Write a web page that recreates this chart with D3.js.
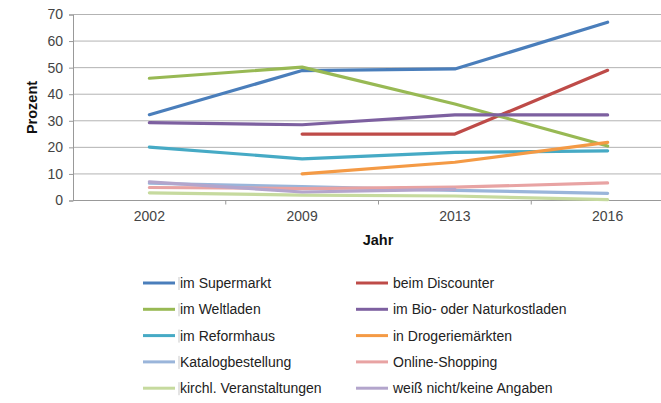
<!DOCTYPE html>
<html>
<head>
<meta charset="utf-8">
<script src="https://cdn.jsdelivr.net/npm/d3@7"></script>
<style>
  html, body { margin: 0; padding: 0; background: #fff; }
  svg { display: block; font-family: "Liberation Sans", Arial, Helvetica, sans-serif; }
</style>
</head>
<body>
<svg id="chart" width="661" height="403"></svg>
<script>
// ---- data ----
const years = ["2002", "2009", "2013", "2016"];
const yTicks = [0, 10, 20, 30, 40, 50, 60, 70];
const seriesNames = [
  "im Supermarkt", "beim Discounter",
  "im Weltladen", "im Bio- oder Naturkostladen",
  "im Reformhaus", "in Drogeriemärkten",
  "Katalogbestellung", "Online-Shopping",
  "kirchl. Veranstaltungen", "weiß nicht/keine Angaben"
];
const supermarkt   = [32.3, 48.9, 49.5, 67.1];
const discounter   = [null, 25, 25, 49];
const weltladen    = [46, 50.2, 36.3, 20.5];
const bio          = [29.3, 28.5, 32.2, 32.2];
const reformhaus   = [20.1, 15.7, 18.1, 18.7];
const drogerie     = [null, 10, 14.4, 21.9];
const katalog      = [6.5, 5.2, 3.8, 2.7];
const online       = [4.9, 4.5, 5.0, 6.6];
const kirchl       = [2.9, 2.0, 1.7, 0.3];
const weissNicht   = [7.0, 3.2, 4.2, null];
const seriesValues = [supermarkt, discounter, weltladen, bio, reformhaus, drogerie, katalog, online, kirchl, weissNicht];
const seriesColors = ["#4A7EBB", "#BE4B48", "#98B954", "#7D60A0", "#46AAC5", "#F49A45", "#9AB5DA", "#E8A3A3", "#C6DA9E", "#B3A5CC"];
const yTitle = "Prozent";
const xTitle = "Jahr";

// ---- layout ----
const svg = d3.select("#chart");
const W = 661;
const plotLeft = 73, plotTop = 14.5, plotBottom = 200.5;
const bandW = 152.75;

const x = d3.scaleBand().domain(years).range([plotLeft, plotLeft + bandW * years.length]).paddingInner(0).paddingOuter(0);
const y = d3.scaleLinear().domain([0, 70]).range([plotBottom, plotTop]);

// gridlines
svg.append("g").selectAll("line").data(yTicks.filter(d => d > 0)).join("line")
  .attr("x1", plotLeft).attr("x2", W)
  .attr("y1", d => y(d)).attr("y2", d => y(d))
  .attr("stroke", "#b3b3b3").attr("stroke-width", 1);

// y axis
const yAxis = svg.append("g").attr("transform", `translate(${plotLeft},0)`)
  .call(d3.axisLeft(y).tickValues(yTicks).tickSize(4).tickPadding(6));
yAxis.select(".domain").attr("stroke", "#999");
yAxis.selectAll(".tick line").attr("stroke", "#999");
yAxis.selectAll(".tick text").attr("fill", "#444").style("font-size", "14px")
  .style("font-family", "'Liberation Sans', Arial, sans-serif");

// x axis
const xAxis = svg.append("g").attr("transform", `translate(0,${plotBottom})`)
  .call(d3.axisBottom(x).tickSize(0).tickPadding(11));
xAxis.select(".domain").attr("d", `M${plotLeft},0H${W}`).attr("stroke", "#999");
xAxis.selectAll(".tick text").attr("fill", "#444").style("font-size", "14px")
  .style("font-family", "'Liberation Sans', Arial, sans-serif");
// category boundary ticks
svg.append("g").selectAll("line").data(years.slice(1)).join("line")
  .attr("x1", d => x(d)).attr("x2", d => x(d))
  .attr("y1", plotBottom).attr("y2", plotBottom + 4)
  .attr("stroke", "#999");

// axis titles
svg.append("text").attr("x", 378).attr("y", 245).attr("text-anchor", "middle")
  .style("font-size", "14.5px").style("font-weight", "bold").attr("fill", "#111").text(xTitle);
svg.append("text").attr("transform", "translate(37,107.5) rotate(-90)").attr("text-anchor", "middle")
  .style("font-size", "14.5px").style("font-weight", "bold").attr("fill", "#111").text(yTitle);

// lines
const line = d3.line()
  .defined(d => d != null)
  .x((d, i) => x(years[i]) + x.bandwidth() / 2)
  .y(d => y(d))
  .curve(d3.curveLinear);

seriesValues.forEach((vals, i) => {
  svg.append("path").datum(vals)
    .attr("d", line)
    .attr("fill", "none")
    .attr("stroke", seriesColors[i])
    .attr("stroke-width", 3.2)
    .attr("stroke-linejoin", "round")
    .attr("stroke-linecap", "round");
});

// legend
const legX = [143, 356];
const legY0 = 283, legDY = 26.3;
const leg = svg.append("g");
seriesNames.forEach((name, i) => {
  const col = i % 2, row = Math.floor(i / 2);
  const gx = legX[col], gy = legY0 + row * legDY;
  leg.append("line").attr("x1", gx).attr("x2", gx + 32).attr("y1", gy).attr("y2", gy)
    .attr("stroke", seriesColors[i]).attr("stroke-width", 3);
  if (col === 0) {
    leg.append("line").attr("x1", gx + 36).attr("x2", gx + 36).attr("y1", gy - 6).attr("y2", gy + 7)
      .attr("stroke", "#bbb").attr("stroke-width", 0.8);
  }
  leg.append("text").attr("x", gx + 37).attr("y", gy + 5)
    .style("font-size", "14px").attr("fill", "#222").text(name);
});
</script>
</body>
</html>
